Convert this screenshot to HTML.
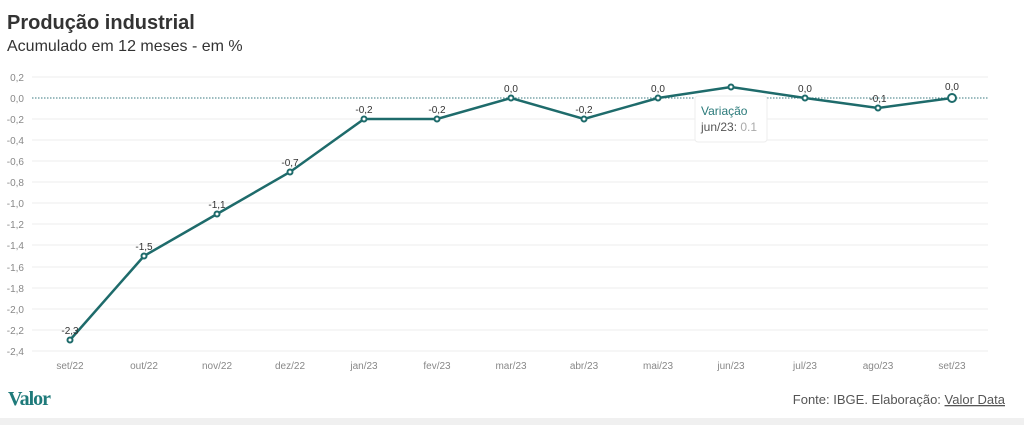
<!DOCTYPE html>
<html><head><meta charset="utf-8"><style>
body{margin:0;background:#fff;width:1024px;height:425px;overflow:hidden;font-family:"Liberation Sans",sans-serif;position:relative}
.t{position:absolute;left:7px;top:12px;font-size:20px;font-weight:bold;color:#333}
.s{position:absolute;left:7px;top:38px;font-size:16px;color:#333}
.band{position:absolute;left:0;top:418px;width:1024px;height:7px;background:#f0f0f0}
</style></head><body>
<div class="t">Produção industrial</div>
<div class="s">Acumulado em 12 meses - em %</div>
<svg width="1024" height="425" style="position:absolute;left:0;top:0" font-family="Liberation Sans, sans-serif">
<g stroke="#ececec" stroke-width="1">
<line x1="32" x2="988" y1="77" y2="77"/><line x1="32" x2="988" y1="119" y2="119"/><line x1="32" x2="988" y1="140" y2="140"/><line x1="32" x2="988" y1="161" y2="161"/><line x1="32" x2="988" y1="182" y2="182"/><line x1="32" x2="988" y1="203" y2="203"/><line x1="32" x2="988" y1="224" y2="224"/><line x1="32" x2="988" y1="245" y2="245"/><line x1="32" x2="988" y1="267" y2="267"/><line x1="32" x2="988" y1="288" y2="288"/><line x1="32" x2="988" y1="309" y2="309"/><line x1="32" x2="988" y1="330" y2="330"/><line x1="32" x2="988" y1="351" y2="351"/>
</g>
<line x1="32" x2="988" y1="98" y2="98" stroke="#3a7a80" stroke-width="1" stroke-dasharray="1.5,1.5"/>
<g font-size="10" fill="#888" text-anchor="end">
<text x="24" y="81">0,2</text><text x="24" y="102">0,0</text><text x="24" y="123">-0,2</text><text x="24" y="144">-0,4</text><text x="24" y="165">-0,6</text><text x="24" y="186">-0,8</text><text x="24" y="207">-1,0</text><text x="24" y="228">-1,2</text><text x="24" y="249">-1,4</text><text x="24" y="271">-1,6</text><text x="24" y="292">-1,8</text><text x="24" y="313">-2,0</text><text x="24" y="334">-2,2</text><text x="24" y="355">-2,4</text>
</g>
<g font-size="10" fill="#888" text-anchor="middle">
<text x="70" y="369">set/22</text><text x="144" y="369">out/22</text><text x="217" y="369">nov/22</text><text x="290" y="369">dez/22</text><text x="364" y="369">jan/23</text><text x="437" y="369">fev/23</text><text x="511" y="369">mar/23</text><text x="584" y="369">abr/23</text><text x="658" y="369">mai/23</text><text x="731" y="369">jun/23</text><text x="805" y="369">jul/23</text><text x="878" y="369">ago/23</text><text x="952" y="369">set/23</text>
</g>
<polyline fill="none" stroke="#1e6b6b" stroke-width="2.5" points="70,340 144,256 217,214 290,172 364,119 437,119 511,98 584,119 658,98 731,87 805,98 878,108 952,98"/>
<g fill="#fff" stroke="#1e6b6b" stroke-width="2">
<circle cx="70" cy="340" r="2.5"/><circle cx="144" cy="256" r="2.5"/><circle cx="217" cy="214" r="2.5"/><circle cx="290" cy="172" r="2.5"/><circle cx="364" cy="119" r="2.5"/><circle cx="437" cy="119" r="2.5"/><circle cx="511" cy="98" r="2.5"/><circle cx="584" cy="119" r="2.5"/><circle cx="658" cy="98" r="2.5"/><circle cx="731" cy="87" r="2.5"/><circle cx="805" cy="98" r="2.5"/><circle cx="878" cy="108" r="2.5"/><circle cx="952" cy="98" r="4"/>
</g>
<g font-size="10" fill="#333" text-anchor="middle">
<text x="70" y="334">-2,3</text><text x="144" y="250">-1,5</text><text x="217" y="208">-1,1</text><text x="290" y="166">-0,7</text><text x="364" y="113">-0,2</text><text x="437" y="113">-0,2</text><text x="511" y="92">0,0</text><text x="584" y="113">-0,2</text><text x="658" y="92">0,0</text><text x="805" y="92">0,0</text><text x="878" y="102">-0,1</text><text x="952" y="90">0,0</text>
</g>
<rect x="695" y="96" width="72" height="46" rx="3" fill="#fff" stroke="#eee"/>
<text x="701" y="115" font-size="12" fill="#2a7a7a">Variação</text>
<text x="701" y="131" font-size="12" fill="#555">jun/23: <tspan fill="#aaa">0.1</tspan></text>
<text x="8" y="405" font-family="Liberation Serif, serif" font-size="20" fill="#1e7a7a" font-weight="bold" letter-spacing="-1">Valor</text>
<text x="1005" y="404" font-size="13" fill="#555" text-anchor="end">Fonte: IBGE. Elaboração: <tspan text-decoration="underline">Valor Data</tspan></text>
</svg>
<div class="band"></div>
</body></html>
